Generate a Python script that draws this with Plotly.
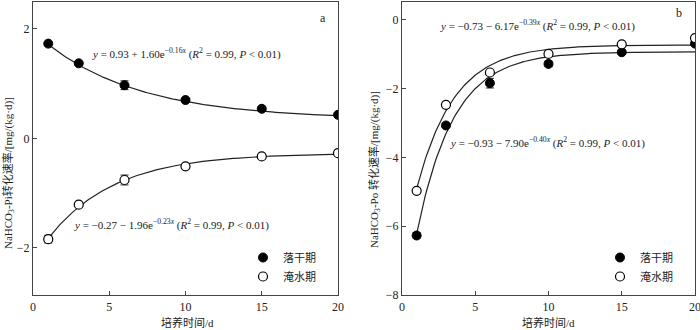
import numpy as np
import plotly.graph_objects as go

# Incubation days
days = [1, 3, 6, 10, 15, 20]

# NaHCO3-Pi transformation rate, mg/(kg·d)
pi_dry = [1.73, 1.37, 0.97, 0.70, 0.54, 0.43]
pi_dry_err = [0.04, 0.03, 0.08, 0.03, 0.03, 0.03]
pi_flood = [-1.84, -1.21, -0.76, -0.51, -0.33, -0.27]
pi_flood_err = [0.07, 0.03, 0.09, 0.04, 0.03, 0.02]

# NaHCO3-Po transformation rate, mg/(kg·d)
po_dry = [-6.27, -3.07, -1.84, -1.28, -0.94, -0.69]
po_dry_err = [0.08, 0.06, 0.14, 0.08, 0.05, 0.05]
po_flood = [-4.97, -2.47, -1.53, -0.99, -0.71, -0.53]
po_flood_err = [0.05, 0.05, 0.06, 0.05, 0.04, 0.04]

# Exponential fit coefficients (a, b, k) for y = a + b*exp(-k*x)
fit_pi_dry = (0.35, 1.60, 0.16)
fit_pi_flood = (-0.27, -1.96, 0.23)
fit_po_dry = (-0.93, -7.90, 0.40)
fit_po_flood = (-0.73, -6.17, 0.39)

legend_names = ["落干期", "淹水期"]

W, H = 700, 330
SERIF = "Liberation Serif, Times New Roman, Noto Sans CJK SC, serif"
CJK = "Noto Sans CJK SC"
INK = "#222"


def px_x(p):
    return p / W


def px_y(p):
    return 1 - p / H


def curve(params):
    a, b, k = params
    xs = np.linspace(1, 20, 200)
    return xs, a + b * np.exp(-k * xs)


fig = go.Figure()

panels = [
    ("x", "y", pi_dry, pi_dry_err, pi_flood, pi_flood_err, fit_pi_dry, fit_pi_flood, "legend"),
    ("x2", "y2", po_dry, po_dry_err, po_flood, po_flood_err, fit_po_dry, fit_po_flood, "legend2"),
]

for xa, ya, dry, dry_err, fl, fl_err, fdry, ffl, lg in panels:
    for params in (fdry, ffl):
        cx, cy = curve(params)
        fig.add_trace(go.Scatter(x=cx, y=cy, mode="lines", xaxis=xa, yaxis=ya,
                                 line=dict(color=INK, width=1.2), showlegend=False,
                                 hoverinfo="skip"))
    fig.add_trace(go.Scatter(
        x=days, y=dry, mode="markers", name=legend_names[0], xaxis=xa, yaxis=ya,
        legend=lg,
        marker=dict(size=9, color="black", line=dict(color="black", width=1)),
        error_y=dict(type="data", array=dry_err, visible=True, color=INK,
                     thickness=1, width=4)))
    fig.add_trace(go.Scatter(
        x=days, y=fl, mode="markers", name=legend_names[1], xaxis=xa, yaxis=ya,
        legend=lg,
        marker=dict(size=9, color="white", line=dict(color="black", width=1.2)),
        error_y=dict(type="data", array=fl_err, visible=True, color=INK,
                     thickness=1, width=4)))

axis_common = dict(showline=True, mirror=True, linecolor="#444", linewidth=1.2,
                   ticks="inside", ticklen=4, tickcolor="#444", showgrid=False,
                   zeroline=False, automargin=False, ticklabeloverflow="allow",
                   tickfont=dict(family=SERIF, size=12, color=INK))

fig.update_layout(
    template="none",
    width=W, height=H,
    margin=dict(l=0, r=0, t=0, b=0),
    plot_bgcolor="white", paper_bgcolor="white",
    xaxis=dict(domain=[px_x(33), px_x(338)], range=[0, 20], tickvals=[0, 5, 10, 15, 20],
               anchor="y", **axis_common),
    yaxis=dict(domain=[px_y(295), px_y(2)], range=[-2.86, 2.49], tickvals=[-2, 0, 2],
               ticktext=["−2", "0", "2"], anchor="x", **axis_common),
    xaxis2=dict(domain=[px_x(402), px_x(695)], range=[0, 20], tickvals=[0, 5, 10, 15, 20],
                anchor="y2", **axis_common),
    yaxis2=dict(domain=[px_y(295), px_y(2)], range=[-8, 0.52], tickvals=[-8, -6, -4, -2, 0],
                ticktext=["−8", "−6", "−4", "−2", "0"], anchor="x2", **axis_common),
    legend=dict(x=px_x(243), y=px_y(243), xanchor="left", yanchor="top",
                bgcolor="rgba(0,0,0,0)", font=dict(family=CJK, size=11, color=INK),
                itemwidth=30, tracegroupgap=0),
    legend2=dict(x=px_x(600), y=px_y(243), xanchor="left", yanchor="top",
                 bgcolor="rgba(0,0,0,0)", font=dict(family=CJK, size=11, color=INK),
                 itemwidth=30, tracegroupgap=0),
)


def label(cx, cy, txt, font, angle=0):
    fig.add_annotation(x=px_x(cx), y=px_y(cy), xref="paper", yref="paper", text=txt,
                       showarrow=False, font=font, textangle=angle,
                       xanchor="center", yanchor="middle")


eq_font = dict(family=SERIF, size=11, color=INK)
equations = [
    (186, 53, "<i>y</i> = 0.93 + 1.60e<sup>−0.16<i>x</i></sup> (<i>R</i><sup>2</sup> = 0.99, <i>P</i> < 0.01)"),
    (171, 225, "<i>y</i> = −0.27 − 1.96e<sup>−0.23<i>x</i></sup> (<i>R</i><sup>2</sup> = 0.99, <i>P</i> < 0.01)"),
    (537, 25, "<i>y</i> = −0.73 − 6.17e<sup>−0.39<i>x</i></sup> (<i>R</i><sup>2</sup> = 0.99, <i>P</i> < 0.01)"),
    (547, 142, "<i>y</i> = −0.93 − 7.90e<sup>−0.40<i>x</i></sup> (<i>R</i><sup>2</sup> = 0.99, <i>P</i> < 0.01)"),
]
for cx, cy, txt in equations:
    label(cx, cy, txt, eq_font)

# Panel letters
letter_font = dict(family=SERIF, size=12, color=INK)
label(323, 18, "a", letter_font)
label(679, 13, "b", letter_font)

# Axis titles
title_font = dict(family=SERIF, size=11, color=INK)
label(8, 173, "NaHCO<sub>3</sub>-Pi转化速率/[mg/(kg·d)]", title_font, -90)
label(374, 170, "NaHCO<sub>3</sub>-Po 转化速率/[mg/(kg·d)]", title_font, -90)
label(187, 322, "培养时间/d", title_font)
label(548, 322, "培养时间/d", title_font)

fig.write_html("out.html")
